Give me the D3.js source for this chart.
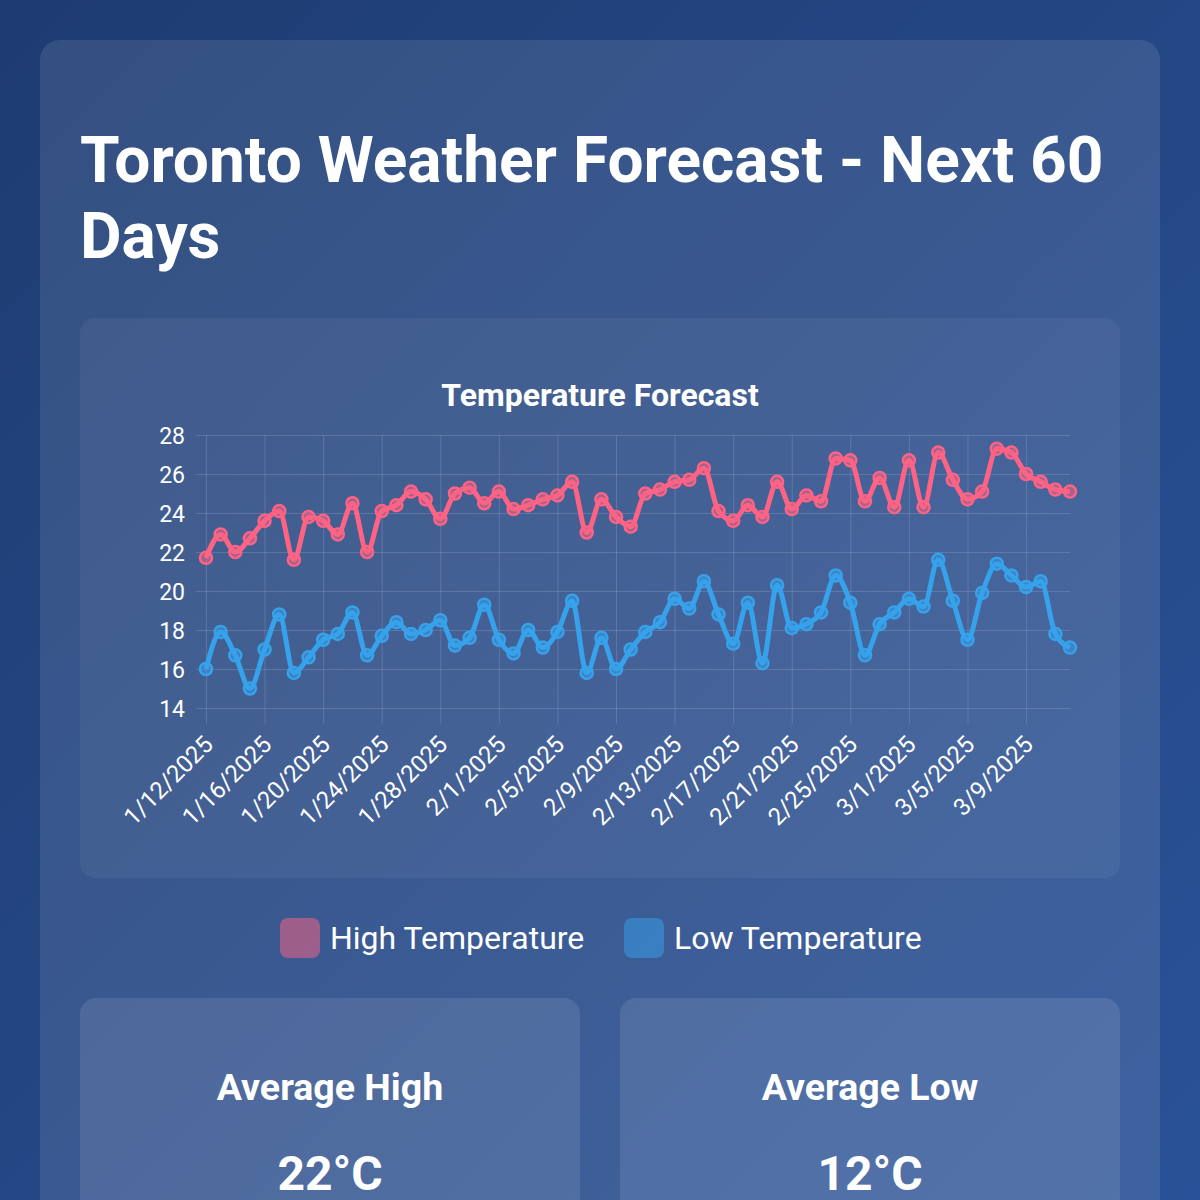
<!DOCTYPE html>
<html lang="en">
  <head>
    <meta charset="UTF-8" />
    <title>Toronto Weather Forecast</title>
    <script src="https://d3js.org/d3.v7.min.js"></script>
    <style>
      body {
        margin: 0;
        width: 1200px;
        height: 1200px;
        overflow: hidden;
        font-family: Roboto, 'Noto Sans', sans-serif;
        background: linear-gradient(135deg, #1e3c72 0%, #2a5298 100%);
      }
      .grid line {
        stroke: rgba(255, 255, 255, 0.14);
        stroke-width: 1;
      }
      .grid path,
      .axis path {
        display: none;
      }
      .axis line {
        stroke: rgba(255, 255, 255, 0.14);
      }
      .axis text {
        fill: #ffffff;
        font-size: 23px;
        font-family: Roboto, sans-serif;
      }
      .axis-x text {
        font-size: 24px;
      }
    </style>
  </head>
  <body>
    <div id="chart"></div>
    <script>
      // dates shown on the x axis (one per day)
      const dates = [
        '1/12/2025', '1/13/2025', '1/14/2025', '1/15/2025', '1/16/2025', '1/17/2025',
        '1/18/2025', '1/19/2025', '1/20/2025', '1/21/2025', '1/22/2025', '1/23/2025',
        '1/24/2025', '1/25/2025', '1/26/2025', '1/27/2025', '1/28/2025', '1/29/2025',
        '1/30/2025', '1/31/2025', '2/1/2025', '2/2/2025', '2/3/2025', '2/4/2025',
        '2/5/2025', '2/6/2025', '2/7/2025', '2/8/2025', '2/9/2025', '2/10/2025',
        '2/11/2025', '2/12/2025', '2/13/2025', '2/14/2025', '2/15/2025', '2/16/2025',
        '2/17/2025', '2/18/2025', '2/19/2025', '2/20/2025', '2/21/2025', '2/22/2025',
        '2/23/2025', '2/24/2025', '2/25/2025', '2/26/2025', '2/27/2025', '2/28/2025',
        '3/1/2025', '3/2/2025', '3/3/2025', '3/4/2025', '3/5/2025', '3/6/2025',
        '3/7/2025', '3/8/2025', '3/9/2025', '3/10/2025', '3/11/2025', '3/12/2025',
      ];
      const xTickLabels = [
        '1/12/2025', '1/16/2025', '1/20/2025', '1/24/2025', '1/28/2025',
        '2/1/2025', '2/5/2025', '2/9/2025', '2/13/2025', '2/17/2025',
        '2/21/2025', '2/25/2025', '3/1/2025', '3/5/2025', '3/9/2025',
      ];
      const yTicks = [14, 16, 18, 20, 22, 24, 26, 28];

      const highTemps = [
        21.7, 22.9, 22.0, 22.7, 23.6, 24.1, 21.6, 23.8, 23.6, 22.9,
        24.5, 22.0, 24.1, 24.4, 25.1, 24.7, 23.7, 25.0, 25.3, 24.5,
        25.1, 24.2, 24.4, 24.7, 24.9, 25.6, 23.0, 24.7, 23.8, 23.3,
        25.0, 25.2, 25.6, 25.7, 26.3, 24.1, 23.6, 24.4, 23.8, 25.6,
        24.2, 24.9, 24.6, 26.8, 26.7, 24.6, 25.8, 24.3, 26.7, 24.3,
        27.1, 25.7, 24.7, 25.1, 27.3, 27.1, 26.0, 25.6, 25.2, 25.1,
      ];
      const lowTemps = [
        16.0, 17.9, 16.7, 15.0, 17.0, 18.8, 15.8, 16.6, 17.5, 17.8,
        18.9, 16.7, 17.7, 18.4, 17.8, 18.0, 18.5, 17.2, 17.6, 19.3,
        17.5, 16.8, 18.0, 17.1, 17.9, 19.5, 15.8, 17.6, 16.0, 17.0,
        17.9, 18.4, 19.6, 19.1, 20.5, 18.8, 17.3, 19.4, 16.3, 20.3,
        18.1, 18.3, 18.9, 20.8, 19.4, 16.7, 18.3, 18.9, 19.6, 19.2,
        21.6, 19.5, 17.5, 19.9, 21.4, 20.8, 20.2, 20.5, 17.8, 17.1,
      ];

      const seriesNames = ['High Temperature', 'Low Temperature'];
      const seriesColors = ['rgb(255, 99, 132)', 'rgb(54, 162, 235)'];
      const statLabels = ['Average High', 'Average Low'];
      const statValues = ['22°C', '12°C'];

      const svg = d3
        .select('#chart')
        .append('svg')
        .attr('width', 1200)
        .attr('height', 1200)
        .style('display', 'block');

      // main glass panel
      svg
        .append('rect')
        .attr('x', 40)
        .attr('y', 40)
        .attr('width', 1120)
        .attr('height', 1200)
        .attr('rx', 20)
        .attr('fill', 'rgba(255,255,255,0.1)');

      // page title (two lines, wraps after "60")
      const title = svg
        .append('text')
        .attr('fill', '#ffffff')
        .style('font-size', '64px')
        .style('font-weight', 700);
      title.append('tspan').attr('x', 80).attr('y', 182).text('Toronto Weather Forecast - Next 60');
      title.append('tspan').attr('x', 80).attr('y', 258).text('Days');

      // chart box
      svg
        .append('rect')
        .attr('x', 80)
        .attr('y', 318)
        .attr('width', 1040)
        .attr('height', 560)
        .attr('rx', 15)
        .attr('fill', 'rgba(255,255,255,0.05)');

      svg
        .append('text')
        .attr('x', 600)
        .attr('y', 406)
        .attr('text-anchor', 'middle')
        .attr('fill', '#ffffff')
        .style('font-size', '32px')
        .style('font-weight', 700)
        .text('Temperature Forecast');

      // scales
      const x = d3.scalePoint().domain(dates).range([206, 1070]);
      const y = d3.scaleLinear().domain([14, 28]).range([708, 435]);

      // grid
      svg
        .append('g')
        .attr('class', 'grid')
        .attr('transform', 'translate(206,0)')
        .call(d3.axisLeft(y).tickValues(yTicks).tickSize(-864).tickFormat(''));
      svg
        .append('g')
        .attr('class', 'grid')
        .attr('transform', 'translate(0,435)')
        .call(d3.axisBottom(x).tickValues(xTickLabels).tickSize(273).tickFormat(''));

      // axes
      svg
        .append('g')
        .attr('class', 'axis')
        .attr('transform', 'translate(196,0)')
        .call(d3.axisLeft(y).tickValues(yTicks).tickSize(0).tickPadding(0))
        .selectAll('text')
        .attr('x', -11)
        .attr('dy', '0.35em');
      svg
        .select('.axis')
        .selectAll('line')
        .remove();

      const xAxis = svg
        .append('g')
        .attr('class', 'axis axis-x')
        .attr('transform', 'translate(0,708)')
        .call(d3.axisBottom(x).tickValues(xTickLabels).tickSize(16));
      xAxis
        .selectAll('text')
        .attr('text-anchor', 'end')
        .attr('dy', '0.35em')
        .attr('y', 0)
        .attr('transform', 'translate(2,32) rotate(-45)');

      // horizontal tick stubs left of the plot
      svg
        .append('g')
        .attr('class', 'grid')
        .attr('transform', 'translate(206,0)')
        .call(d3.axisLeft(y).tickValues(yTicks).tickSize(10).tickFormat(''));

      // lines and points
      const line = d3
        .line()
        .x((d, i) => x(dates[i]))
        .y((d) => y(d))
        .curve(d3.curveMonotoneX);

      [highTemps, lowTemps].forEach(function (series, k) {
        svg
          .append('path')
          .datum(series)
          .attr('d', line)
          .attr('fill', 'none')
          .attr('stroke', seriesColors[k])
          .attr('stroke-width', 5)
          .attr('stroke-linejoin', 'round');

        svg
          .append('g')
          .selectAll('circle')
          .data(series)
          .enter()
          .append('circle')
          .attr('cx', (d, i) => x(dates[i]))
          .attr('cy', (d) => y(d))
          .attr('r', 6)
          .attr('fill', seriesColors[k].replace('rgb', 'rgba').replace(')', ', 0.5)'))
          .attr('stroke', seriesColors[k])
          .attr('stroke-width', 2.5);
      });

      // legend
      const legendX = [280, 624];
      seriesNames.forEach(function (name, k) {
        svg
          .append('rect')
          .attr('x', legendX[k])
          .attr('y', 918)
          .attr('width', 40)
          .attr('height', 40)
          .attr('rx', 8)
          .attr('fill', seriesColors[k].replace('rgb', 'rgba').replace(')', ', 0.5)'));
        svg
          .append('text')
          .attr('x', legendX[k] + 50)
          .attr('y', 949)
          .attr('fill', '#ffffff')
          .style('font-size', '32px')
          .text(name);
      });

      // stat cards
      const cardX = [80, 620];
      statLabels.forEach(function (label, k) {
        svg
          .append('rect')
          .attr('x', cardX[k])
          .attr('y', 998)
          .attr('width', 500)
          .attr('height', 260)
          .attr('rx', 16)
          .attr('fill', 'rgba(255,255,255,0.1)');
        svg
          .append('text')
          .attr('x', cardX[k] + 250)
          .attr('y', 1100)
          .attr('text-anchor', 'middle')
          .attr('fill', '#ffffff')
          .style('font-size', '37.5px')
          .style('font-weight', 700)
          .text(label);
        svg
          .append('text')
          .attr('x', cardX[k] + 250)
          .attr('y', 1190)
          .attr('text-anchor', 'middle')
          .attr('fill', '#ffffff')
          .style('font-size', '48px')
          .style('font-weight', 700)
          .text(statValues[k]);
      });
    </script>
  </body>
</html>
